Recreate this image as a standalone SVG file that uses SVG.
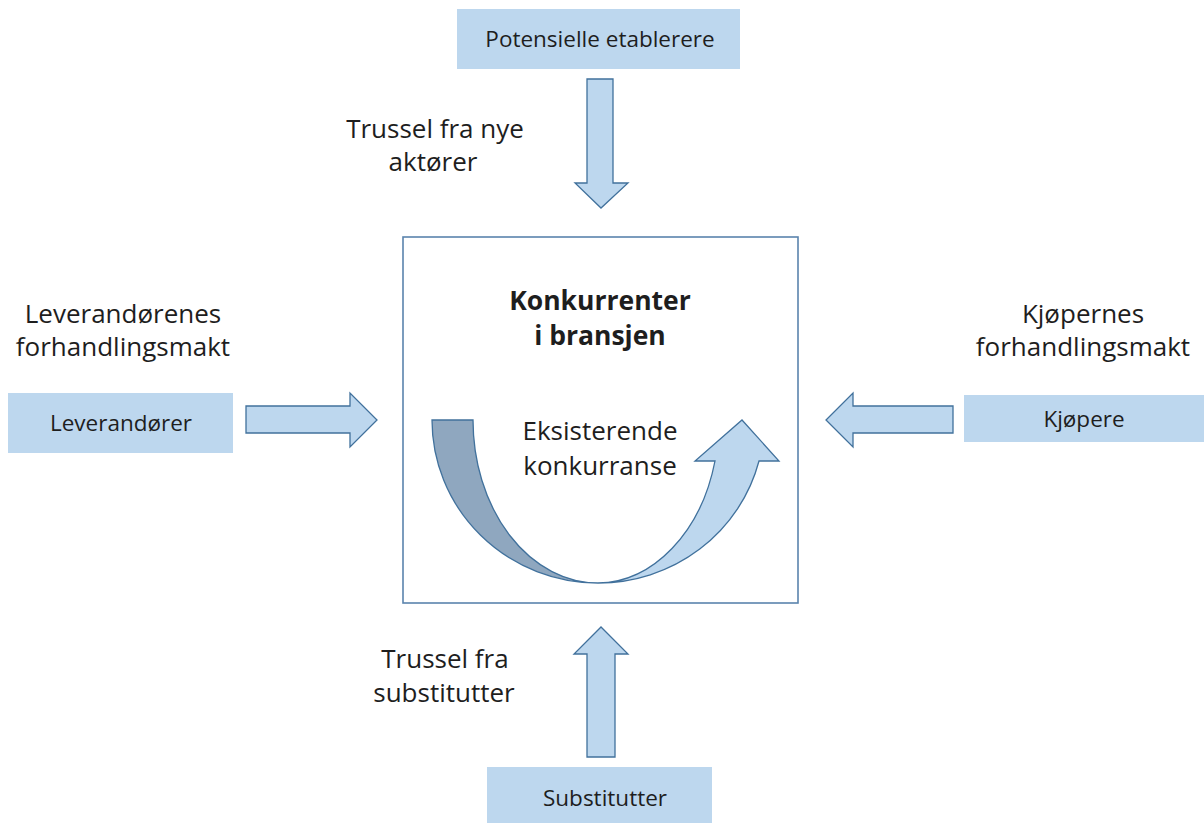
<svg xmlns="http://www.w3.org/2000/svg" width="1204" height="823" viewBox="0 0 1204 823">
  <style>
    .label-box { fill: #BDD7EE; }
    .block-arrow { fill: #BDD7EE; stroke: #41719C; stroke-width: 1.3; stroke-linejoin: miter; }
    .back-band { fill: #8FA7BF; stroke: #41719C; stroke-width: 1.3; }
    .frame { fill: #FFFFFF; stroke: #5B84AD; stroke-width: 1.6; }
    text { font-family: "Open Sans", "Noto Sans", "Liberation Sans", sans-serif; fill: #1E1E1E; text-anchor: middle; }
    .lbl { font-size: 22.5px; }
    .note { font-size: 26px; }
    .title { font-size: 26.5px; font-weight: bold; }
  </style>

  <rect width="1204" height="823" fill="#FFFFFF"/>

  <!-- central industry box -->
  <g id="konkurrenter">
    <rect class="frame" x="403" y="237" width="395" height="366"/>
    <text class="title" x="600" y="310">Konkurrenter</text>
    <text class="title" x="600" y="345">i bransjen</text>
    <!-- curved up arrow: back side of the band, then front side with head -->
    <path class="back-band" d="M432,420 A166,163 0 0 0 598,583 A125,163 0 0 1 473,420 Z"/>
    <path class="block-arrow" d="M598,583 A166,163 0 0 0 759,461 L779,461 L742,420 L695,461 L715,461 A122,163 0 0 1 598,583 Z"/>
    <text class="note" x="600" y="440">Eksisterende</text>
    <text class="note" x="600" y="475">konkurranse</text>
  </g>

  <g id="potensielle-etablerere">
    <rect class="label-box" x="457" y="9" width="283" height="60"/>
    <text class="lbl" x="600" y="47">Potensielle etablerere</text>
  </g>

  <g id="leverandorer">
    <rect class="label-box" x="8" y="393" width="225" height="60"/>
    <text class="lbl" x="121" y="431">Leverandører</text>
  </g>

  <g id="kjopere">
    <rect class="label-box" x="964" y="395" width="240" height="47"/>
    <text class="lbl" x="1084" y="427">Kjøpere</text>
  </g>

  <g id="substitutter">
    <rect class="label-box" x="487" y="767" width="225" height="56"/>
    <text class="lbl" x="605" y="806">Substitutter</text>
  </g>

  <!-- forces acting on the industry -->
  <g id="connectors">
    <path class="block-arrow" d="M587,79 H613 V183 H628 L601,208 L575,183 H587 Z"/>
    <path class="block-arrow" d="M246,406 H350 V393 L377,420 L350,447 V433 H246 Z"/>
    <path class="block-arrow" d="M953,406 H853 V393 L826,420 L853,447 V433 H953 Z"/>
    <path class="block-arrow" d="M587,757 V654 H574 L601,627 L628,654 H615 V757 Z"/>
  </g>

  <g id="connector-labels">
    <text class="note" x="435" y="138">Trussel fra nye</text>
    <text class="note" x="433" y="171">aktører</text>
    <text class="note" x="123" y="323">Leverandørenes</text>
    <text class="note" x="123" y="356">forhandlingsmakt</text>
    <text class="note" x="1083" y="323">Kjøpernes</text>
    <text class="note" x="1083" y="356">forhandlingsmakt</text>
    <text class="note" x="445" y="668">Trussel fra</text>
    <text class="note" x="444" y="702">substitutter</text>
  </g>
</svg>
